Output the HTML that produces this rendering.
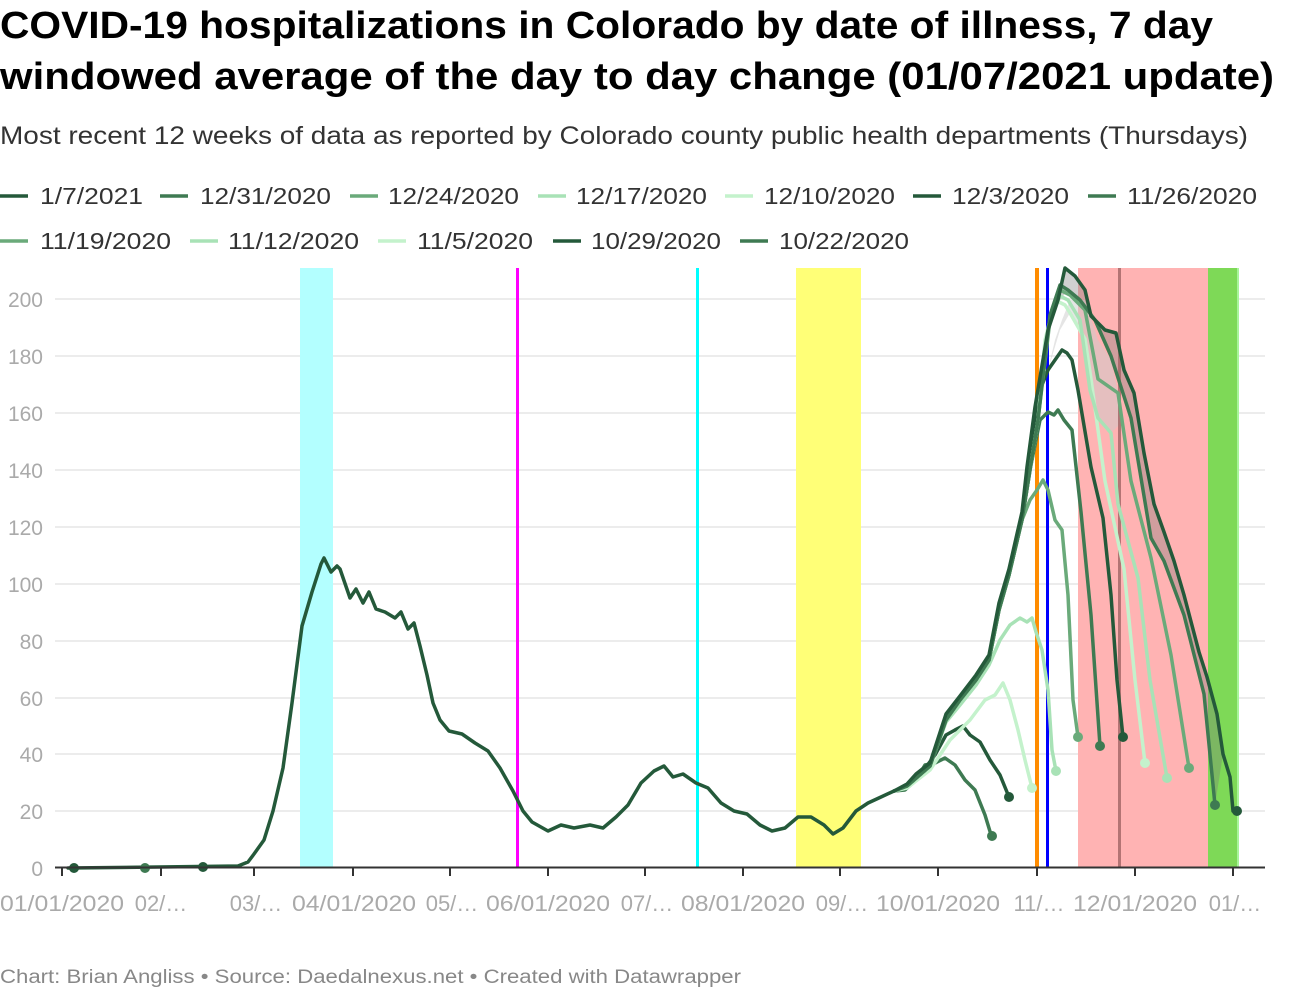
<!DOCTYPE html>
<html><head><meta charset="utf-8"><style>
body{margin:0;background:#fff;width:1300px;height:1000px;overflow:hidden;font-family:"Liberation Sans",sans-serif}
</style></head><body>
<svg width="1300" height="1000" xmlns="http://www.w3.org/2000/svg" font-family="Liberation Sans, sans-serif">
<text x="0" y="38" font-size="38" font-weight="bold" fill="#000" textLength="1213" lengthAdjust="spacingAndGlyphs">COVID-19 hospitalizations in Colorado by date of illness, 7 day</text>
<text x="0" y="89" font-size="38" font-weight="bold" fill="#000" textLength="1274" lengthAdjust="spacingAndGlyphs">windowed average of the day to day change (01/07/2021 update)</text>
<text x="0" y="144" font-size="25" fill="#333" textLength="1248" lengthAdjust="spacingAndGlyphs">Most recent 12 weeks of data as reported by Colorado county public health departments (Thursdays)</text>
<g font-size="23" fill="#333" stroke-width="3.5" lengthAdjust="spacingAndGlyphs">
<line x1="0" y1="196" x2="28" y2="196" stroke="#24593a"/><text x="40" y="204" textLength="103" lengthAdjust="spacingAndGlyphs">1/7/2021</text>
<line x1="160" y1="196" x2="188" y2="196" stroke="#3e7a52"/><text x="200" y="204" textLength="131" lengthAdjust="spacingAndGlyphs">12/31/2020</text>
<line x1="350" y1="196" x2="378" y2="196" stroke="#6aaa7a"/><text x="388" y="204" textLength="131" lengthAdjust="spacingAndGlyphs">12/24/2020</text>
<line x1="538" y1="196" x2="566" y2="196" stroke="#a8e2b6"/><text x="576" y="204" textLength="131" lengthAdjust="spacingAndGlyphs">12/17/2020</text>
<line x1="725" y1="196" x2="753" y2="196" stroke="#c4f2cc"/><text x="764" y="204" textLength="131" lengthAdjust="spacingAndGlyphs">12/10/2020</text>
<line x1="913" y1="196" x2="941" y2="196" stroke="#24593a"/><text x="952" y="204" textLength="117" lengthAdjust="spacingAndGlyphs">12/3/2020</text>
<line x1="1088" y1="196" x2="1116" y2="196" stroke="#3e7a52"/><text x="1127" y="204" textLength="130" lengthAdjust="spacingAndGlyphs">11/26/2020</text>
<line x1="0" y1="241" x2="28" y2="241" stroke="#6aaa7a"/><text x="40" y="249" textLength="131" lengthAdjust="spacingAndGlyphs">11/19/2020</text>
<line x1="190" y1="241" x2="218" y2="241" stroke="#a8e2b6"/><text x="228" y="249" textLength="131" lengthAdjust="spacingAndGlyphs">11/12/2020</text>
<line x1="378" y1="241" x2="406" y2="241" stroke="#c4f2cc"/><text x="417" y="249" textLength="116" lengthAdjust="spacingAndGlyphs">11/5/2020</text>
<line x1="553" y1="241" x2="581" y2="241" stroke="#24593a"/><text x="591" y="249" textLength="130" lengthAdjust="spacingAndGlyphs">10/29/2020</text>
<line x1="740" y1="241" x2="768" y2="241" stroke="#3e7a52"/><text x="779" y="249" textLength="130" lengthAdjust="spacingAndGlyphs">10/22/2020</text>
</g>
<g stroke="#e5e5e5" stroke-width="1.5">
<line x1="55" x2="1265" y1="299" y2="299"/><line x1="55" x2="1265" y1="356" y2="356"/><line x1="55" x2="1265" y1="413" y2="413"/><line x1="55" x2="1265" y1="470" y2="470"/><line x1="55" x2="1265" y1="527" y2="527"/><line x1="55" x2="1265" y1="584" y2="584"/><line x1="55" x2="1265" y1="641" y2="641"/><line x1="55" x2="1265" y1="698" y2="698"/><line x1="55" x2="1265" y1="754" y2="754"/><line x1="55" x2="1265" y1="811" y2="811"/>
</g>
<g font-size="21" fill="#aaa" text-anchor="end">
<text x="43" y="307">200</text><text x="43" y="364">180</text><text x="43" y="421">160</text><text x="43" y="478">140</text><text x="43" y="535">120</text><text x="43" y="592">100</text><text x="43" y="649">80</text><text x="43" y="706">60</text><text x="43" y="762">40</text><text x="43" y="819">20</text><text x="43" y="876">0</text>
</g>
<rect x="300" y="268" width="33" height="599" fill="#b3ffff"/>
<rect x="516" y="268" width="3" height="599" fill="#ff00ff"/>
<rect x="696" y="268" width="3" height="599" fill="#00ffff"/>
<rect x="796" y="268" width="65" height="599" fill="#ffff77"/>
<rect x="1078" y="268" width="130" height="599" fill="#ffb3b3"/>
<rect x="1208" y="268" width="30" height="599" fill="#7ed957"/>
<rect x="1237" y="268" width="2" height="599" fill="#a8f59a"/>
<rect x="1035" y="268" width="4" height="599" fill="#ff8c00"/>
<rect x="1046" y="268" width="3" height="599" fill="#0000ff"/>
<polygon points="1040,380 1048,330 1058,300 1065,268 1075,276 1085,290 1091,316 1105,330 1116,333 1124,370 1134,393 1144,453 1154,504 1164,532 1174,561 1184,595 1199,652 1207,677 1217,714 1223,754 1215,805 1204,694 1184,615 1164,561 1151,538 1131,418 1111,356 1095,320 1080,300 1068,290 1060,300 1050,330" fill="#777" opacity="0.35"/>
<polygon points="1048,370 1055,340 1062,320 1070,300 1085,300 1098,340 1111,360 1124,420 1111,433 1098,418 1085,339 1070,313 1060,330" fill="#ccc" opacity="0.5"/>
<rect x="1118" y="268" width="3" height="599" fill="#a06464" opacity="0.8"/>
<g fill="none" stroke-width="3.5" stroke-linejoin="round" stroke-linecap="round">
<polyline stroke="#3e7a52" points="894,791 905,790 916,780 925,765 935,763 945,758 955,765 965,780 975,790 985,815 992,838"/>
<polyline stroke="#24593a" points="894,791 907,786 920,775 935,755 946,735 955,730 963,726 970,735 980,742 990,760 1000,775 1009,797"/>
<polyline stroke="#c4f2cc" points="894,791 907,788 930,770 950,740 970,720 985,700 995,695 1003,683 1010,700 1018,730 1025,760 1032,788"/>
<polyline stroke="#a8e2b6" points="894,791 907,786 930,766 946,722 960,705 976,685 989,665 1000,640 1010,625 1020,618 1027,622 1032,618 1036,632 1042,650 1048,690 1052,750 1056,771"/>
<polyline stroke="#6aaa7a" points="894,791 907,786 930,766 946,720 960,700 976,680 989,660 999,610 1009,575 1022,520 1030,500 1037,490 1043,480 1048,490 1055,520 1062,530 1068,595 1073,700 1078,737"/>
<polyline stroke="#3e7a52" points="894,791 907,786 930,766 946,720 960,700 976,680 989,660 999,610 1009,575 1022,520 1030,470 1040,420 1048,412 1054,415 1058,410 1064,420 1072,430 1081,512 1091,615 1100,746"/>
<polyline stroke="#24593a" points="894,791 907,786 930,766 946,720 960,700 976,680 989,660 999,610 1009,575 1022,520 1030,470 1040,390 1048,370 1055,360 1062,350 1067,353 1072,360 1078,390 1091,467 1103,518 1111,595 1117,680 1123,737"/>
<polyline stroke="#c4f2cc" points="894,791 907,786 930,766 946,720 960,700 976,680 989,660 999,610 1009,575 1022,520 1030,470 1038,420 1045,340 1055,300 1065,305 1070,313 1085,339 1091,379 1105,481 1124,569 1135,680 1145,763"/>
<polyline stroke="#a8e2b6" points="894,791 907,786 930,766 946,720 960,700 976,680 989,660 999,610 1009,575 1022,520 1030,470 1038,420 1048,330 1058,295 1068,300 1080,320 1090,390 1098,418 1111,433 1118,504 1138,578 1150,680 1167,778"/>
<polyline stroke="#6aaa7a" points="894,791 907,786 930,766 946,720 960,700 976,680 989,660 999,610 1009,575 1022,520 1030,470 1038,420 1050,320 1060,290 1070,295 1085,310 1098,379 1118,393 1131,481 1151,558 1171,655 1189,768"/>
<polyline stroke="#3e7a52" points="894,791 907,786 930,766 946,720 960,700 976,680 989,660 999,610 1009,575 1022,520 1030,470 1038,420 1050,315 1060,285 1068,290 1080,300 1095,320 1111,356 1131,418 1151,538 1164,561 1184,615 1204,694 1215,805"/>
<polyline stroke="#24593a" points="68,868 158,867 238,866 248,862 254,854 264,840 273,811 283,768 292,703 302,626 312,592 321,564 324,558 331,572 337,566 340,569 350,598 356,589 363,603 369,592 376,609 385,612 395,618 401,612 408,629 414,623 420,646 427,675 433,703 440,720 449,731 462,734 475,743 488,751 500,768 513,791 523,811 532,822 548,831 561,825 574,828 590,825 603,828 616,817 628,805 641,783 654,771 664,766 673,777 683,774 696,783 708,788 721,803 734,811 747,814 760,825 772,831 785,828 798,817 811,817 824,825 833,834 843,828 856,811 868,803 881,797 894,791 907,784 916,774 930,763 946,714 960,696 976,675 989,655 999,603 1009,569 1022,512 1027,467 1035,407 1048,330 1058,300 1065,268 1075,276 1085,290 1091,316 1105,330 1116,333 1124,370 1134,393 1144,453 1154,504 1164,532 1174,561 1184,595 1199,652 1207,677 1217,714 1223,754 1230,777 1233,811"/>
</g>
<g>
<circle cx="74" cy="868" r="5" fill="#24593a"/><circle cx="145" cy="868" r="5" fill="#3e7a52"/><circle cx="203" cy="867" r="5" fill="#24593a"/>
<circle cx="992" cy="836" r="5" fill="#3e7a52"/><circle cx="1009" cy="797" r="5" fill="#24593a"/><circle cx="1032" cy="788" r="5" fill="#c4f2cc"/><circle cx="1056" cy="771" r="5" fill="#a8e2b6"/><circle cx="1078" cy="737" r="5" fill="#6aaa7a"/><circle cx="1100" cy="746" r="5" fill="#3e7a52"/><circle cx="1123" cy="737" r="5" fill="#24593a"/><circle cx="1145" cy="763" r="5" fill="#c4f2cc"/><circle cx="1167" cy="778" r="5" fill="#a8e2b6"/><circle cx="1189" cy="768" r="5" fill="#6aaa7a"/><circle cx="1215" cy="805" r="5" fill="#3e7a52"/><circle cx="1237" cy="811" r="5" fill="#24593a"/>
</g>
<line x1="55" x2="1265" y1="867.5" y2="867.5" stroke="#333" stroke-width="2"/>
<g stroke="#333" stroke-width="2">
<line x1="62" x2="62" y1="867" y2="876"/><line x1="161" x2="161" y1="867" y2="876"/><line x1="254" x2="254" y1="867" y2="876"/><line x1="353" x2="353" y1="867" y2="876"/><line x1="450" x2="450" y1="867" y2="876"/><line x1="548" x2="548" y1="867" y2="876"/><line x1="645" x2="645" y1="867" y2="876"/><line x1="743" x2="743" y1="867" y2="876"/><line x1="840" x2="840" y1="867" y2="876"/><line x1="938" x2="938" y1="867" y2="876"/><line x1="1037" x2="1037" y1="867" y2="876"/><line x1="1135" x2="1135" y1="867" y2="876"/><line x1="1233" x2="1233" y1="867" y2="876"/>
</g>
<g font-size="22" fill="#aaa" text-anchor="middle">
<text x="62" y="911" textLength="124" lengthAdjust="spacingAndGlyphs">01/01/2020</text><text x="161" y="911">02/…</text><text x="256" y="911">03/…</text><text x="354" y="911" textLength="124" lengthAdjust="spacingAndGlyphs">04/01/2020</text><text x="452" y="911">05/…</text><text x="548" y="911" textLength="124" lengthAdjust="spacingAndGlyphs">06/01/2020</text><text x="647" y="911">07/…</text><text x="743" y="911" textLength="124" lengthAdjust="spacingAndGlyphs">08/01/2020</text><text x="842" y="911">09/…</text><text x="938" y="911" textLength="124" lengthAdjust="spacingAndGlyphs">10/01/2020</text><text x="1039" y="911">11/…</text><text x="1135" y="911" textLength="124" lengthAdjust="spacingAndGlyphs">12/01/2020</text><text x="1235" y="911">01/…</text>
</g>
<text x="0" y="983" font-size="19" fill="#888" textLength="741" lengthAdjust="spacingAndGlyphs">Chart: Brian Angliss • Source: Daedalnexus.net • Created with Datawrapper</text>
</svg>
</body></html>
